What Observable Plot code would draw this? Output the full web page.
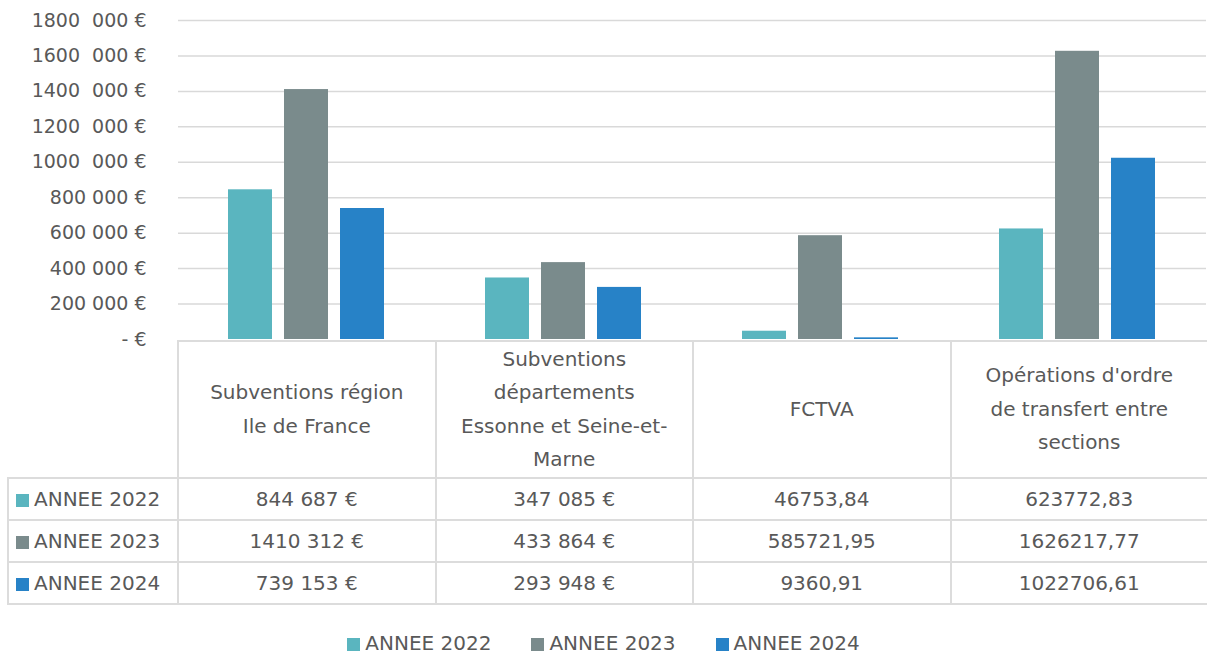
<!DOCTYPE html>
<html>
<head>
<meta charset="utf-8">
<script src="https://cdn.jsdelivr.net/npm/d3@7"></script>
<script src="https://cdn.jsdelivr.net/npm/@observablehq/plot@0.6"></script>
<style>
  html, body { margin: 0; padding: 0; background: #fff; overflow: hidden; }
  #wrap { position: relative; width: 1207px; height: 655px; font-family: "DejaVu Sans", sans-serif; color: #595959; }
  #chart { position: absolute; left: 0; top: 0; z-index: 2; }
  #chart svg { overflow: visible; }
  #table { position: absolute; left: 7px; top: 340px; border-collapse: collapse; table-layout: fixed; width: 1200px; z-index: 1; }
  #table td { border: 2px solid #dcdcdc; text-align: center; font-size: 20px; color: #595959; padding: 0; }
  #table tr.head td { height: 135px; line-height: 33.5px; vertical-align: middle; }
  #table tr.head td.blank { border-top: none; border-left: none; border-bottom: 2px solid #dcdcdc; }
  #table tr.row td { height: 40px; }
  #table td.lab { text-align: left; padding-left: 7px; white-space: nowrap; }
  .sw { display: inline-block; width: 13px; height: 13px; margin-right: 5px; vertical-align: -1px; }
  #legend { position: absolute; left: 0; top: 628px; width: 1207px; display: flex; justify-content: center; gap: 40px; font-size: 20px; line-height: 30px; }
  #legend span.item { white-space: nowrap; }
</style>
</head>
<body>
<div id="wrap">
  <div id="chart"></div>
  <table id="table"></table>
  <div id="legend"></div>
</div>
<script>
// ---- data ----
const categories = [
  "Subventions région Ile de France",
  "Subventions départements Essonne et Seine-et-Marne",
  "FCTVA",
  "Opérations d'ordre de transfert entre sections"
];
const categoryLines = [
  ["Subventions région", "Ile de France"],
  ["Subventions", "départements", "Essonne et Seine-et-", "Marne"],
  ["FCTVA"],
  ["Opérations d'ordre", "de transfert entre", "sections"]
];
const years = ["ANNEE 2022", "ANNEE 2023", "ANNEE 2024"];
const values2022 = [844687, 347085, 46753.84, 623772.83];
const values2023 = [1410312, 433864, 585721.95, 1626217.77];
const values2024 = [739153, 293948, 9360.91, 1022706.61];
const cells2022 = ["844 687 €", "347 085 €", "46753,84", "623772,83"];
const cells2023 = ["1410 312 €", "433 864 €", "585721,95", "1626217,77"];
const cells2024 = ["739 153 €", "293 948 €", "9360,91", "1022706,61"];
const colors = ["#5ab5bf", "#7a8b8c", "#2782c7"];
const yTicks = [0, 200000, 400000, 600000, 800000, 1000000, 1200000, 1400000, 1600000, 1800000];
const yTickLabels = ["- €", "200\u00a0000 €", "400\u00a0000 €", "600\u00a0000 €", "800\u00a0000 €",
  "1000\u00a0\u00a0000 €", "1200\u00a0\u00a0000 €", "1400\u00a0\u00a0000 €", "1600\u00a0\u00a0000 €", "1800\u00a0\u00a0000 €"];

const seriesValues = [values2022, values2023, values2024];
const seriesCells = [cells2022, cells2023, cells2024];
const data = categories.flatMap((c, i) => years.map((y, j) => ({category: c, year: y, value: seriesValues[j][i]})));

// ---- chart ----
const chart = Plot.plot({
  width: 1207,
  height: 340,
  marginTop: 20,
  marginBottom: 1,
  marginLeft: 177,
  marginRight: 0,
  style: {fontFamily: "DejaVu Sans, sans-serif", fontSize: "19px", color: "#595959", background: "transparent", overflow: "visible"},
  fx: {domain: categories, padding: 0, axis: null},
  x: {domain: years, paddingInner: 0.21, paddingOuter: 0.864, axis: null},
  y: {domain: [0, 1800000], axis: null},
  color: {domain: years, range: colors},
  marks: [
    Plot.ruleY(yTicks.slice(1), {stroke: "#d9d9d9", strokeWidth: 1.5}),
    Plot.barY(data, {fx: "category", x: "year", y: "value", fill: "year"}),
    Plot.axisY({ticks: yTicks, tickFormat: d => yTickLabels[yTicks.indexOf(d)], tickSize: 0, tickPadding: 32, label: null, fontSize: 19})
  ]
});
document.getElementById("chart").appendChild(chart);

// ---- data table ----
const table = document.getElementById("table");
const colgroup = document.createElement("colgroup");
[170, 257.5, 257.5, 257.5, 257.5].forEach(w => { const c = document.createElement("col"); c.style.width = w + "px"; colgroup.appendChild(c); });
table.appendChild(colgroup);
const head = document.createElement("tr");
head.className = "head";
const blank = document.createElement("td");
blank.className = "blank";
head.appendChild(blank);
categoryLines.forEach(lines => {
  const td = document.createElement("td");
  lines.forEach((l, k) => { if (k) td.appendChild(document.createElement("br")); td.appendChild(document.createTextNode(l)); });
  head.appendChild(td);
});
table.appendChild(head);
years.forEach((y, j) => {
  const tr = document.createElement("tr");
  tr.className = "row";
  const lab = document.createElement("td");
  lab.className = "lab";
  const sw = document.createElement("span");
  sw.className = "sw";
  sw.style.background = colors[j];
  lab.appendChild(sw);
  lab.appendChild(document.createTextNode(y));
  tr.appendChild(lab);
  seriesCells[j].forEach(v => { const td = document.createElement("td"); td.textContent = v; tr.appendChild(td); });
  table.appendChild(tr);
});

// ---- legend ----
const legend = document.getElementById("legend");
years.forEach((y, j) => {
  const it = document.createElement("span");
  it.className = "item";
  const sw = document.createElement("span");
  sw.className = "sw";
  sw.style.background = colors[j];
  it.appendChild(sw);
  it.appendChild(document.createTextNode(y));
  legend.appendChild(it);
});
</script>
</body>
</html>
